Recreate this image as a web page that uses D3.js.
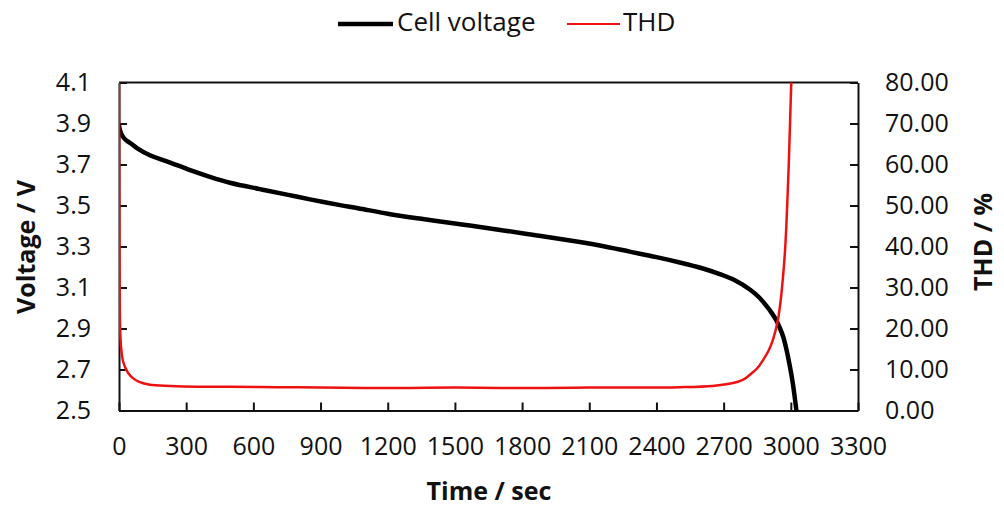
<!DOCTYPE html>
<meta charset="utf-8">
<style>
    body { margin: 0; background: #ffffff; }
    text { font-family: "Open Sans", sans-serif; fill: #111; }
    .tick text { font-size: 25px; }
    .axis path, .axis line { stroke: #111; stroke-width: 2px; }
    .title { font-size: 25px; font-weight: bold; }
    .legend text { font-size: 26px; }
</style>
<svg width="1004" height="510"></svg>
<script src="https://d3js.org/d3.v7.min.js"></script>
<script>

    // time (s) and cell voltage (V)
    var voltTime = [0, 5, 15, 30, 50, 80, 138, 200, 300, 406, 500, 629, 750, 853, 987, 1067, 1200, 1350, 1500, 1567,
        1800, 2058, 2147, 2281, 2400, 2504, 2600, 2683, 2750, 2817, 2860, 2891, 2915, 2935, 2952, 2966, 2980, 2995, 3008, 3018, 3025];
    var voltage = [3.89, 3.865, 3.84, 3.82, 3.805, 3.78, 3.745, 3.72, 3.68, 3.64, 3.61, 3.58, 3.553, 3.53, 3.502, 3.487, 3.46, 3.435, 3.412, 3.402,
        3.365, 3.322, 3.305, 3.275, 3.248, 3.222, 3.195, 3.165, 3.135, 3.09, 3.05, 3.01, 2.975, 2.94, 2.90, 2.86, 2.80, 2.72, 2.64, 2.56, 2.5];

    // time (s) and THD (%)
    var thdTime = [0, 1, 2, 3, 5, 10, 18, 28, 40, 62, 90, 138, 228, 350, 500, 700, 900, 1100, 1300, 1500, 1700, 1900,
        2100, 2300, 2500, 2650, 2742, 2790, 2817, 2850, 2876, 2900, 2920, 2942, 2955, 2965, 2973, 2980, 2986, 2992, 2997, 3002];
    var thd = [80, 60, 40, 28, 20, 15, 12, 10.5, 9.2, 7.9, 7.0, 6.3, 6.0, 5.8, 5.8, 5.7, 5.6, 5.5, 5.5, 5.6, 5.5, 5.5,
        5.6, 5.6, 5.7, 6.0, 6.7, 7.6, 8.7, 10.3, 12.3, 14.5, 17.2, 22, 27, 32.5, 38, 45, 53, 62, 71, 80];

    var xTicks = [0, 300, 600, 900, 1200, 1500, 1800, 2100, 2400, 2700, 3000, 3300];
    var voltTicks = [2.5, 2.7, 2.9, 3.1, 3.3, 3.5, 3.7, 3.9, 4.1];
    var thdTicks = [0, 10, 20, 30, 40, 50, 60, 70, 80];

    var svg = d3.select("svg");
    var plotLeft = 119, plotRight = 858, plotTop = 82.5, plotBottom = 410.5;

    var x = d3.scaleLinear().domain([0, 3300]).range([plotLeft, plotRight]);
    var yV = d3.scaleLinear().domain([2.5, 4.1]).range([plotBottom, plotTop]);
    var yT = d3.scaleLinear().domain([0, 80]).range([plotBottom, plotTop]);

    svg.append("clipPath").attr("id", "plot")
        .append("rect")
        .attr("x", plotLeft).attr("y", plotTop - 1)
        .attr("width", plotRight - plotLeft).attr("height", plotBottom - plotTop + 2);

    // top border
    svg.append("line")
        .attr("x1", plotLeft).attr("x2", plotRight)
        .attr("y1", plotTop).attr("y2", plotTop)
        .attr("stroke", "#111").attr("stroke-width", 2);

    var xAxis = svg.append("g").attr("class", "axis")
        .attr("transform", "translate(0," + plotBottom + ")")
        .call(d3.axisBottom(x).tickValues(xTicks).tickFormat(d3.format("d")).tickSizeInner(-8).tickSizeOuter(0).tickPadding(27));

    var yAxisL = svg.append("g").attr("class", "axis")
        .attr("transform", "translate(" + plotLeft + ",0)")
        .call(d3.axisLeft(yV).tickValues(voltTicks).tickFormat(d3.format(".1f")).tickSizeInner(-8).tickSizeOuter(0).tickPadding(28));

    var yAxisR = svg.append("g").attr("class", "axis")
        .attr("transform", "translate(" + plotRight + ",0)")
        .call(d3.axisRight(yT).tickValues(thdTicks).tickFormat(d3.format(".2f")).tickSizeInner(-8).tickSizeOuter(0).tickPadding(27));

    svg.selectAll(".tick text").attr("fill", "#111");

    // smooth curves through the read-off points
    var voltLine = d3.line()
        .x(function (d, i) { return x(voltTime[i]); })
        .y(function (d) { return yV(d); })
        .curve(d3.curveCatmullRom.alpha(0.5));

    var thdLine = d3.line()
        .x(function (d, i) { return x(thdTime[i]); })
        .y(function (d) { return yT(d); })
        .curve(d3.curveCatmullRom.alpha(0.5));

    var plot = svg.append("g").attr("clip-path", "url(#plot)");

    plot.append("path")
        .datum(voltage)
        .attr("d", voltLine)
        .attr("fill", "none")
        .attr("stroke", "#000")
        .attr("stroke-width", 4.5)
        .attr("stroke-linecap", "round");

    plot.append("path")
        .datum(thd)
        .attr("d", thdLine)
        .attr("fill", "none")
        .attr("stroke", "#ee1111")
        .attr("stroke-width", 2.5);

    // axis titles
    svg.append("text").attr("class", "title")
        .attr("x", 489).attr("y", 493)
        .attr("text-anchor", "middle").attr("dominant-baseline", "middle")
        .text("Time / sec");

    svg.append("text").attr("class", "title")
        .attr("transform", "translate(28,247) rotate(-90)")
        .attr("text-anchor", "middle").attr("dominant-baseline", "middle")
        .text("Voltage / V");

    svg.append("text").attr("class", "title")
        .attr("transform", "translate(985,242) rotate(-90)")
        .attr("text-anchor", "middle").attr("dominant-baseline", "middle")
        .text("THD / %");

    // legend
    var legend = svg.append("g").attr("class", "legend");
    legend.append("line")
        .attr("x1", 338).attr("x2", 393).attr("y1", 24).attr("y2", 24)
        .attr("stroke", "#000").attr("stroke-width", 4.5);
    legend.append("text")
        .attr("x", 397).attr("y", 24).attr("dominant-baseline", "middle")
        .text("Cell voltage");
    legend.append("line")
        .attr("x1", 567).attr("x2", 620).attr("y1", 24).attr("y2", 24)
        .attr("stroke", "#ee1111").attr("stroke-width", 2);
    legend.append("text")
        .attr("x", 623).attr("y", 24).attr("dominant-baseline", "middle")
        .text("THD");

</script>
